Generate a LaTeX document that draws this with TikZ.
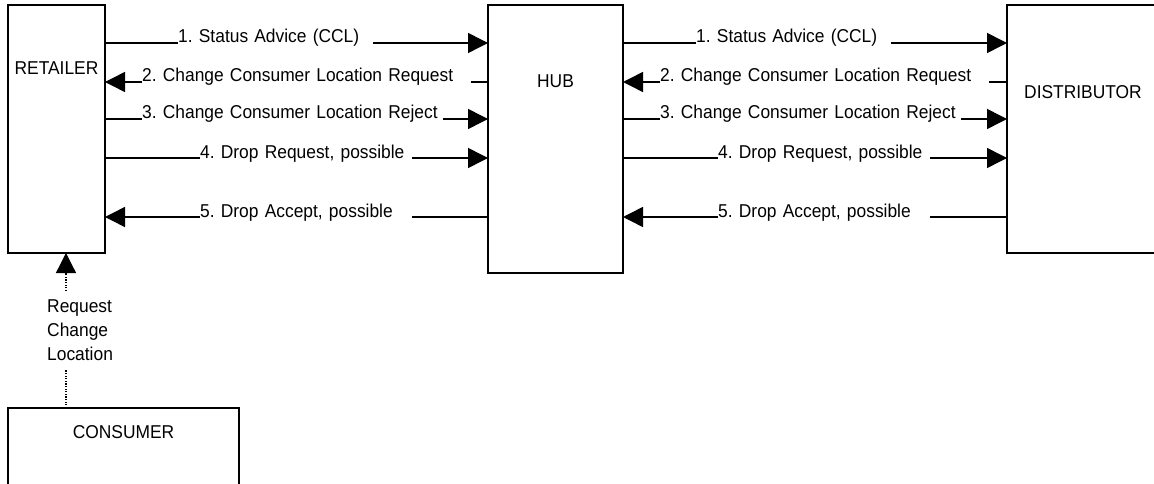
\documentclass[tikz,border=0pt]{standalone}
\usepackage{fontspec}
\setmainfont{Liberation Sans}[FakeStretch=0.935]
\usetikzlibrary{arrows.meta}
\begin{document}
\frenchspacing
\begin{tikzpicture}[x=1pt,y=-1pt,
  box/.style={draw,line width=2pt,inner sep=0pt,outer sep=0pt},
  txt/.style={inner sep=0pt,font=\fontsize{18.6}{24}\selectfont\frenchspacing},
  msg/.style={txt,fill=white,anchor=base west,align=left,inner ysep=3pt},
  conn/.style={line width=1.5pt},
  tip/.style={-{Triangle[length=20pt,width=20pt]}},
  dots/.style={line width=1.3pt,dash pattern=on 1.3pt off 1.3pt},
]
\useasboundingbox (0,0) rectangle (1154,484);
\clip (0,0) rectangle (1154,484);
% boxes
\node[box,minimum width=97pt,minimum height=248pt] (ret) at (56.5,129) {};
\node[box,minimum width=135pt,minimum height=268pt] (hub) at (555.5,139) {};
\node[box,minimum width=152pt,minimum height=248pt] (dis) at (1083,129) {};
\node[box,minimum width=231pt,minimum height=92pt] (cons) at (123.5,454) {};
% box titles
\node[txt] (retT) at (56.5,68) {RETAILER};
\node[txt] (hubT) at (555.5,81) {HUB};
\node[txt] (disT) at (1083,92.5) {DISTRIBUTOR};
\node[txt] (consT) at (123.5,432) {CONSUMER};
% rows
\coordinate (y1) at (0,43);
\coordinate (y2) at (0,82);
\coordinate (y3) at (0,119);
\coordinate (y4) at (0,158);
\coordinate (y5) at (0,217);
% retailer <-> hub
\draw[conn,tip] (ret.east |- y1) -- (hub.west |- y1);
\draw[conn,tip] (hub.west |- y2) -- (ret.east |- y2);
\draw[conn,tip] (ret.east |- y3) -- (hub.west |- y3);
\draw[conn,tip] (ret.east |- y4) -- (hub.west |- y4);
\draw[conn,tip] (hub.west |- y5) -- (ret.east |- y5);
\node[msg,text width=195pt] (a1) at (178,43) {1. Status Advice (CCL)};
\node[msg,text width=329pt] (a2) at (142,82) {2. Change Consumer Location Request};
\node[msg,text width=301pt] (a3) at (142,119) {3. Change Consumer Location Reject};
\node[msg,text width=212pt] (a4) at (200,158) {4. Drop Request, possible};
\node[msg,text width=212pt] (a5) at (200,217) {5. Drop Accept, possible};
% hub <-> distributor
\draw[conn,tip] (hub.east |- y1) -- (dis.west |- y1);
\draw[conn,tip] (dis.west |- y2) -- (hub.east |- y2);
\draw[conn,tip] (hub.east |- y3) -- (dis.west |- y3);
\draw[conn,tip] (hub.east |- y4) -- (dis.west |- y4);
\draw[conn,tip] (dis.west |- y5) -- (hub.east |- y5);
\node[msg,text width=195pt] (b1) at (696,43) {1. Status Advice (CCL)};
\node[msg,text width=329pt] (b2) at (660,82) {2. Change Consumer Location Request};
\node[msg,text width=301pt] (b3) at (660,119) {3. Change Consumer Location Reject};
\node[msg,text width=212pt] (b4) at (718,158) {4. Drop Request, possible};
\node[msg,text width=212pt] (b5) at (718,217) {5. Drop Accept, possible};
% consumer -> retailer
\coordinate (ax) at (66,0);
\draw[dots,tip] (cons.north -| ax) -- (ret.south -| ax);
\node[txt,fill=white,align=left,anchor=west,inner ysep=8pt] (rcl) at (47,330.5) {Request\\Change\\Location};
\end{tikzpicture}
\end{document}
